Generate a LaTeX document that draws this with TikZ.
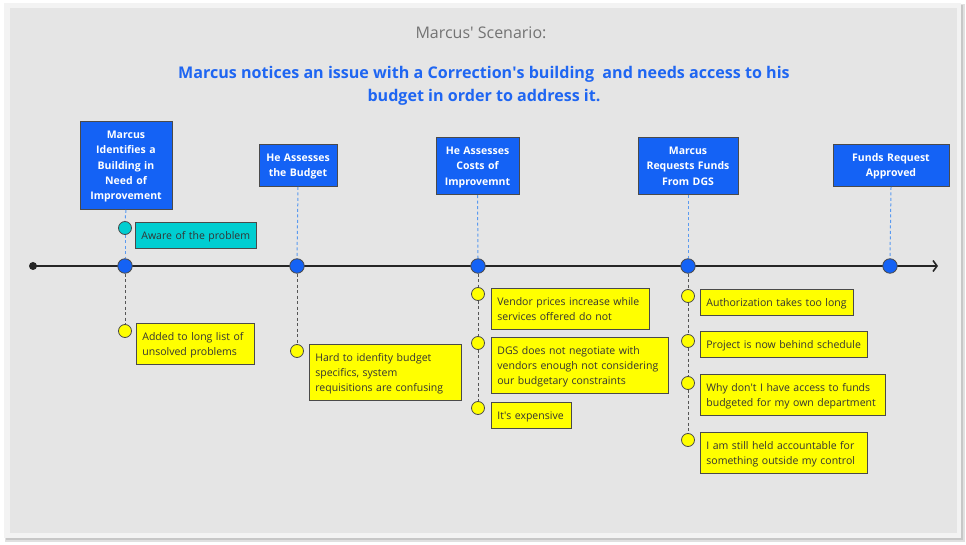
\documentclass[tikz,border=0pt]{standalone}
\usepackage{fontspec}
\setmainfont{Open Sans}
\usetikzlibrary{arrows.meta}
\definecolor{bgpanel}{HTML}{E5E5E5}
\definecolor{boxblue}{HTML}{1462F5}
\definecolor{titleblue}{HTML}{1F66F2}
\definecolor{yel}{HTML}{FFFF00}
\definecolor{cyanbox}{HTML}{00CED1}
\definecolor{edgecol}{HTML}{4A4A4A}
\definecolor{dashblue}{HTML}{5A9AF0}
\definecolor{dashgray}{HTML}{555555}
\definecolor{notetext}{HTML}{333333}
\definecolor{framecol}{HTML}{F3F3F3}
\newcommand{\aq}{\textquotesingle}
\begin{document}
\begin{tikzpicture}[x=1pt,y=-1pt,
  vpad/.style 2 args={execute at begin node={\rule{0pt}{#1}}, execute at end node={\rule[-#2]{0pt}{#2}}},
  stagebox/.style={draw=edgecol, line width=0.8pt, fill=boxblue, text=white,
    font=\fontsize{10.5}{15.3}\selectfont\bfseries, align=center, inner sep=0pt,
    text width=#1, vpad={17.3pt}{9.5pt}, anchor=north},
  notebox/.style={draw=edgecol, line width=0.8pt, fill=yel, text=notetext,
    font=\fontsize{10.5}{15}\selectfont, align=left, inner xsep=6pt, inner ysep=0pt,
    anchor=north west, text width=#1, vpad={17pt}{9pt}},
  cyannote/.style={notebox=#1, fill=cyanbox},
  tldot/.style={circle, draw=edgecol, line width=0.8pt, fill=boxblue, minimum size=14.5pt, inner sep=0pt},
  ydot/.style={circle, draw=edgecol, line width=0.8pt, fill=yel, minimum size=13pt, inner sep=0pt},
  cdot/.style={circle, draw=edgecol, line width=0.8pt, fill=cyanbox, minimum size=13pt, inner sep=0pt},
  startdot/.style={circle, fill=black!85, minimum size=8pt, inner sep=0pt},
  bluedash/.style={draw=dashblue, line width=1pt, dash pattern=on 3pt off 2.5pt},
  graydash/.style={draw=dashgray, line width=1pt, dash pattern=on 3pt off 2.5pt},
  axis/.style={draw=black!85, line width=1.6pt, -{Straight Barb[length=4pt,width=11pt,line width=1.6pt]}}
]
\useasboundingbox (0,0) rectangle (966,545);
% frame
\fill[white] (0,0) rectangle (966,545);
\fill[black!12] (5,4) rectangle (965,542);
\fill[black!22] (6,5) rectangle (963,540);
\fill[framecol] (4,3) rectangle (961,538);
\fill[bgpanel] (10,8) rectangle (957,533);

% titles
\node[font=\fontsize{16}{19}\selectfont, text=black!55] (title) at (481,32.5) {Marcus\aq{} Scenario:};
\node[font=\fontsize{16.1}{23}\selectfont\bfseries, text=titleblue, align=center] (sub) at (484,85.5)
  {Marcus notices an issue with a Correction\aq{}s building\ \ and needs access to his\\budget in order to address it.};

% timeline
\node[startdot] (s) at (33,266) {};
\coordinate (tlend) at (938,266);
\draw[axis] (s.center) -- (tlend);

% stage boxes
\node[stagebox=92pt] (b1) at (126,121) {Marcus\\Identifies a\\Building in\\Need of\\Improvement};
\node[stagebox=78pt] (b2) at (298,144) {He Assesses\\the Budget};
\node[stagebox=83pt] (b3) at (477.5,137) {He Assesses\\Costs of\\Improvemnt};
\node[stagebox=100pt] (b4) at (688,137) {Marcus\\Requests Funds\\From DGS};
\node[stagebox=116pt] (b5) at (891,144) {Funds Request\\Approved};

% timeline dots
\node[tldot] (t1) at (125,266) {};
\node[tldot] (t2) at (297,266) {};
\node[tldot] (t3) at (478,266) {};
\node[tldot] (t4) at (688,266) {};
\node[tldot] (t5) at (890,266) {};

% cyan note
\node[cdot] (c1) at (125,228) {};
\node[cyannote=109pt] (cn1) at (135,222) {Aware of the problem};

% yellow dots
\node[ydot] (y1) at (125,331) {};
\node[ydot] (y2) at (297,351) {};
\node[ydot] (y3a) at (478,294) {};
\node[ydot] (y3b) at (478,343) {};
\node[ydot] (y3c) at (478,408) {};
\node[ydot] (y4a) at (688,296) {};
\node[ydot] (y4b) at (688,341) {};
\node[ydot] (y4c) at (688,383) {};
\node[ydot] (y4d) at (688,440) {};

% yellow notes
\node[notebox=106pt] (n1) at (136,323) {Added to long list of\\unsolved problems};
\node[notebox=140pt] (n2) at (309,344) {Hard to idenfity budget\\specifics, system\\requisitions are confusing};
\node[notebox=146pt] (n3a) at (491,288) {Vendor prices increase while\\services offered do not};
\node[notebox=165pt] (n3b) at (491,337) {DGS does not negotiate with\\vendors enough not considering\\our budgetary constraints};
\node[notebox=68pt] (n3c) at (491,402) {It\aq{}s expensive};
\node[notebox=141pt] (n4a) at (700,289) {Authorization takes too long};
\node[notebox=155pt] (n4b) at (700,331) {Project is now behind schedule};
\node[notebox=173pt] (n4c) at (700,374) {Why don\aq{}t I have access to funds\\budgeted for my own department};
\node[notebox=155pt] (n4d) at (700,432) {I am still held accountable for\\something outside my control};

% blue dashed connectors
\draw[bluedash] (b1.south) -- (c1.north);
\draw[bluedash] (c1.south) -- (t1.north);
\draw[bluedash] (b2.south) -- (t2.north);
\draw[bluedash] (b3.south) -- (t3.north);
\draw[bluedash] (b4.south) -- (t4.north);
\draw[bluedash] (b5.south) -- (t5.north);

% gray dashed connectors
\draw[graydash] (t1.south) -- (y1.north);
\draw[graydash] (t2.south) -- (y2.north);
\draw[graydash] (t3.south) -- (y3a.north);
\draw[graydash] (y3a.south) -- (y3b.north);
\draw[graydash] (y3b.south) -- (y3c.north);
\draw[graydash] (t4.south) -- (y4a.north);
\draw[graydash] (y4a.south) -- (y4b.north);
\draw[graydash] (y4b.south) -- (y4c.north);
\draw[graydash] (y4c.south) -- (y4d.north);
\end{tikzpicture}
\end{document}
